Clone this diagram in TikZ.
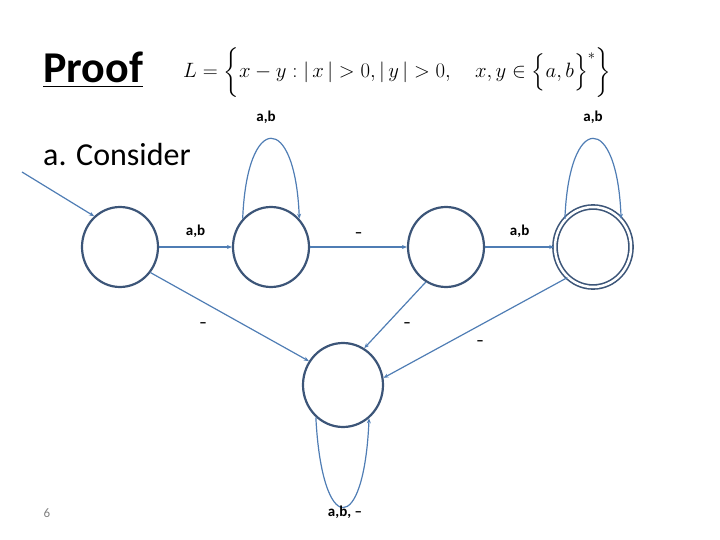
\documentclass[tikz,border=0pt]{standalone}
\usepackage{fontspec}
\setmainfont{Carlito}
\usepackage{amsmath}
\usetikzlibrary{arrows.meta,shapes.geometric}
\definecolor{edgec}{RGB}{79,125,180}
\definecolor{statec}{RGB}{60,85,120}
\tikzset{
  state/.style={ellipse,draw=statec,line width=2.2pt,minimum width=76pt,minimum height=80pt,inner sep=0pt},
  acc/.style={state,double=white,double distance=2.5pt,line width=1.6pt},
  edge/.style={draw=edgec,line width=1.2pt,-{Stealth[length=5pt,width=4pt]}},
  lbl/.style={font=\fontsize{15}{17}\selectfont\bfseries,inner sep=0pt}
}
\begin{document}
\begin{tikzpicture}[x=1pt,y=-1pt]
\useasboundingbox (0,0) rectangle (720,540);
\node[font=\fontsize{44}{50}\selectfont\bfseries,anchor=base west,inner sep=0pt] (proof) at (43,83) {\underline{Proof}};
\node[anchor=base west,inner sep=0pt,font=\fontsize{21}{26}\selectfont] (formula) at (183,78)
  {$L=\biggl\{x-y:|\,x\,|>0,|\,y\,|>0,\quad x,y\in\Bigl\{a,b\Bigr\}^{*}\biggr\}$};
\node[font=\fontsize{32}{36}\selectfont,anchor=base west,inner sep=0pt] (consider) at (43,166) {a. Consider};
\node[font=\fontsize{13}{15}\selectfont,text=gray] (pg) at (47,513) {6};

\node[state] (q1) at (120,247) {};
\node[state] (q2) at (271,247) {};
\node[state] (q3) at (446,247) {};
\node[acc]   (q4) at (593,247) {};
\node[state,minimum width=80pt,minimum height=84pt] (q5) at (343,385) {};
\coordinate (start) at (22,172);

\draw[edge] (start) -- (q1.130);
\draw[edge] (q1) -- node[lbl,above=9pt] {a,b} (q2);
\draw[edge] (q2) -- node[lbl,above=9pt] {--} (q3);
\draw[edge] (q3) -- node[lbl,above=9pt] {a,b} (q4);
\draw[edge] (q1.-40) -- (q5.145);
\draw[edge] (q3.-120) -- (q5.60);
\draw[edge] (q4.-130) -- (q5.10);
\draw[edge] (q2.135) .. controls (247,112) and (295,112) .. (q2.45);
\draw[edge] (q4.135) .. controls (569,112) and (617,112) .. (q4.45);
\draw[edge] (q5.-130) .. controls (322,537) and (364,537) .. (q5.-52);

\node[lbl] (l2) at (266,117) {a,b};
\node[lbl] (l4) at (593,117) {a,b};
\node[lbl] (l15) at (203,325) {--};
\node[lbl] (l35) at (407,325) {--};
\node[lbl] (l45) at (480,343) {--};
\node[lbl] (l55) at (345,512) {a,b, --};
\end{tikzpicture}
\end{document}
